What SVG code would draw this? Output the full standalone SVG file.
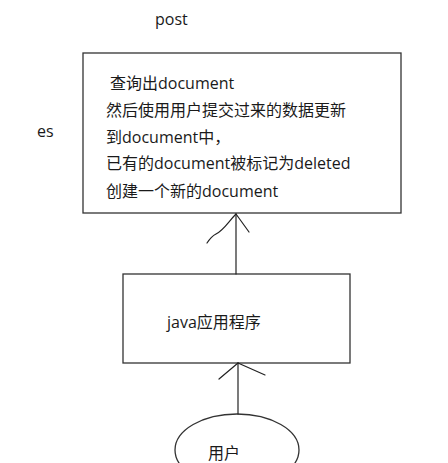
<svg xmlns="http://www.w3.org/2000/svg" width="448" height="463" viewBox="0 0 448 463">
<style>
text{font-family:"Open Sans","Noto Sans CJK SC",sans-serif;font-size:16px;fill:#1a1a1a}
.box{fill:#fff;stroke:#333;stroke-width:1.3}
.ln{fill:none;stroke:#222;stroke-width:1.2;stroke-linecap:round}
</style>
<rect width="448" height="463" fill="#fff"/>
<g id="label-post"><text x="155" y="25">post</text></g>
<g id="label-es"><text x="37" y="137">es</text></g>
<g id="es-box">
<rect class="box" x="83" y="53" width="318" height="160"/>
<text x="110" y="89">查询出document</text>
<text x="106" y="116">然后使用用户提交过来的数据更新</text>
<text x="106" y="143">到document中，</text>
<text x="106" y="169">已有的document被标记为deleted</text>
<text x="106" y="197">创建一个新的document</text>
</g>
<g id="java-box">
<rect class="box" x="123" y="274" width="227" height="89"/>
<text x="167" y="328">java应用程序</text>
</g>
<g id="user">
<ellipse class="box" cx="237" cy="450" rx="62" ry="36"/>
<text x="208" y="459">用户</text>
</g>
<g id="connectors">
<path class="ln" d="M236 274 V214"/>
<path class="ln" d="M236 214 C228 222 224 230 216 234 C212 236 209 240 207 243"/>
<path class="ln" d="M236 214 L249 232"/>
<path class="ln" d="M238 414 V363"/>
<path class="ln" d="M238 363 L219 379"/>
<path class="ln" d="M238 363 L265 375"/>
</g>
</svg>
